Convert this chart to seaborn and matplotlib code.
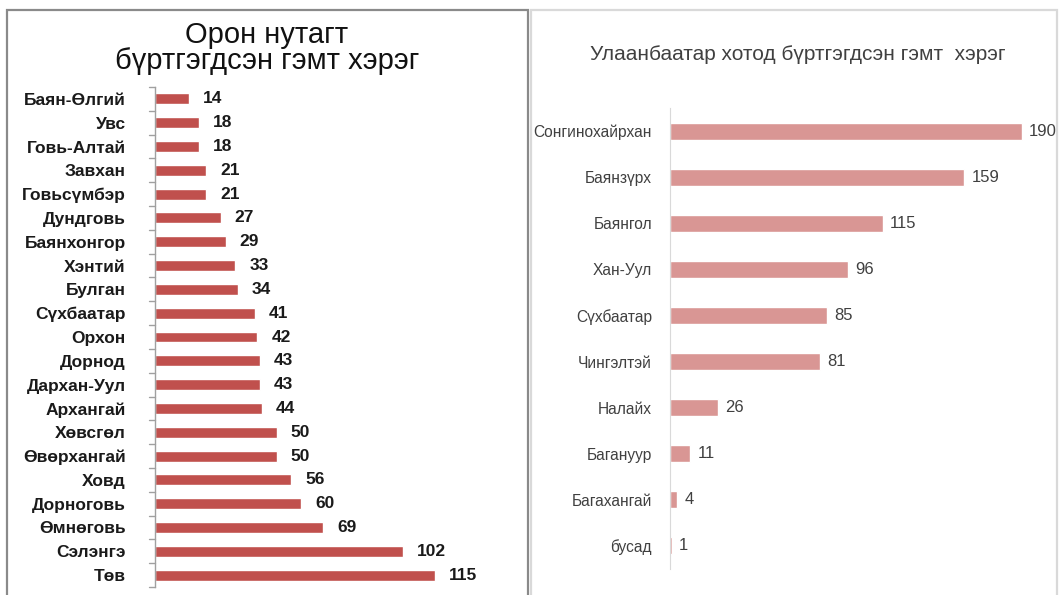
import matplotlib
matplotlib.use("Agg")
import matplotlib.pyplot as plt
from matplotlib.patches import Rectangle
import seaborn as sns
import pandas as pd

# left panel: regions
aimag = ["Баян-Өлгий", "Увс", "Говь-Алтай", "Завхан", "Говьсүмбэр", "Дундговь",
         "Баянхонгор", "Хэнтий", "Булган", "Сүхбаатар", "Орхон", "Дорнод",
         "Дархан-Уул", "Архангай", "Хөвсгөл", "Өвөрхангай", "Ховд", "Дорноговь",
         "Өмнөговь", "Сэлэнгэ", "Төв"]
aimag_count = [14, 18, 18, 21, 21, 27, 29, 33, 34, 41, 42, 43, 43, 44, 50, 50,
               56, 60, 69, 102, 115]

# right panel: Ulaanbaatar districts
duureg = ["Сонгинохайрхан", "Баянзүрх", "Баянгол", "Хан-Уул", "Сүхбаатар",
          "Чингэлтэй", "Налайх", "Багануур", "Багахангай", "бусад"]
duureg_count = [190, 159, 115, 96, 85, 81, 26, 11, 4, 1]

left_title = "Орон нутагт\nбүртгэгдсэн гэмт хэрэг"
right_title = "Улаанбаатар хотод бүртгэгдсэн гэмт  хэрэг"

sns.set_style("white")
plt.rcParams["font.family"] = ["Liberation Sans", "DejaVu Sans"]

df1 = pd.DataFrame({"name": aimag, "n": aimag_count})
df2 = pd.DataFrame({"name": duureg, "n": duureg_count})

fig = plt.figure(figsize=(10.6, 5.95), dpi=100)

# panel borders
fig.patches.append(Rectangle((7 / 1060, -0.01), 521 / 1060, 1 - 10 / 595 + 0.01,
                             transform=fig.transFigure, fill=False,
                             edgecolor="#8a8a8a", lw=1.6, zorder=0))
fig.patches.append(Rectangle((531 / 1060, -0.01), 526 / 1060, 1 - 10 / 595 + 0.01,
                             transform=fig.transFigure, fill=False,
                             edgecolor="#d9d9d9", lw=1.6, zorder=0))

# ---- left
ax1 = fig.add_axes([155 / 1060, 8 / 595, 360 / 1060, 500 / 595])
sns.barplot(data=df1, y="name", x="n", color="#C0504D", width=0.46,
            saturation=1, ax=ax1)
ax1.set_xlim(0, 148)
ax1.set_ylim(len(aimag) - 0.5, -0.5)
ax1.set_xlabel("")
ax1.set_ylabel("")
ax1.set_xticks([])
for s in ["top", "right", "bottom"]:
    ax1.spines[s].set_visible(False)
ax1.spines["left"].set_color("#a0a0a0")
ax1.spines["left"].set_linewidth(1)
ax1.set_yticks(range(len(aimag)))
ax1.set_yticklabels(aimag, fontsize=12.5, fontweight="bold", color="#1a1a1a")
ax1.tick_params(axis="y", length=0, pad=21)
# category boundary tick marks
for i in range(len(aimag) + 1):
    ax1.plot([-0.017, 0], [i - 0.5, i - 0.5], transform=ax1.get_yaxis_transform(),
             color="#a0a0a0", lw=1, clip_on=False)
for i, v in enumerate(aimag_count):
    ax1.text(v + 5.8, i, str(v), va="center", ha="left", fontsize=12.5,
             fontweight="bold", color="#1a1a1a")
fig.text(267 / 1060, 1 - 48 / 595, left_title, ha="center", va="center",
         fontsize=21, color="#111111", linespacing=0.95)

# ---- right
ax2 = fig.add_axes([670 / 1060, 26 / 595, 370 / 1060, 461 / 595])
sns.barplot(data=df2, y="name", x="n", color="#D99694", width=0.37,
            saturation=1, ax=ax2)
ax2.set_xlim(0, 200)
ax2.set_ylim(len(duureg) - 0.5, -0.5)
ax2.set_xlabel("")
ax2.set_ylabel("")
ax2.set_xticks([])
for s in ["top", "right", "bottom"]:
    ax2.spines[s].set_visible(False)
ax2.spines["left"].set_color("#d9d9d9")
ax2.set_yticks(range(len(duureg)))
ax2.set_yticklabels(duureg, fontsize=11.2, color="#404040")
ax2.tick_params(axis="y", length=0, pad=13)
for i, v in enumerate(duureg_count):
    ax2.text(v + 4, i, str(v), va="center", ha="left", fontsize=12,
             color="#404040")
fig.text(798 / 1060, 1 - 55 / 595, right_title, ha="center", va="center",
         fontsize=15, color="#404040")

fig.savefig("out.png", dpi=100)
